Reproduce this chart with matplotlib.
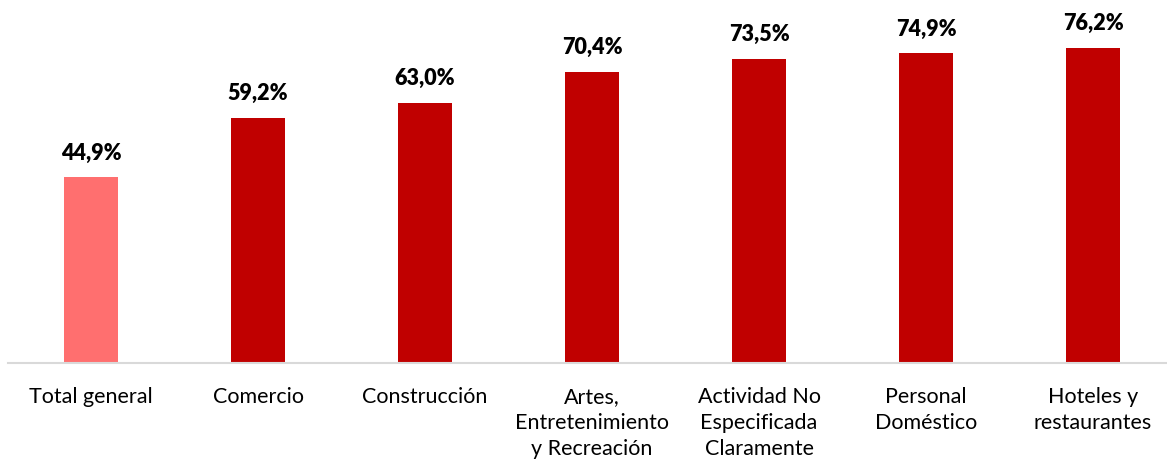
import matplotlib.pyplot as plt

categories = ["Total general", "Comercio", "Construcción", "Artes,\nEntretenimiento\ny Recreación",
              "Actividad No\nEspecificada\nClaramente", "Personal\nDoméstico", "Hoteles y\nrestaurantes"]
values = [44.9, 59.2, 63.0, 70.4, 73.5, 74.9, 76.2]
colors = ["#FF6F6F"] + ["#C00000"] * 6

plt.rcParams['font.family'] = ['Lato', 'DejaVu Sans']

fig = plt.figure(figsize=(11.67, 4.62), dpi=100)
ax = fig.add_axes([7.5 / 1167, 99 / 462, 1169 / 1167, 363 / 462])

x = list(range(len(values)))
bars = ax.bar(x, values, width=0.32, color=colors)

for xi, v in zip(x, values):
    ax.annotate(f"{v:.1f}%".replace(".", ","), (xi, v), xytext=(0, 10), textcoords="offset points",
                ha="center", va="bottom", fontsize=15.5, fontweight="heavy", color="black")

ax.set_xlim(-0.5, len(values) - 0.5)
ax.set_ylim(0, 87.8)
ax.set_xticks(x)
ax.set_xticklabels(categories, fontsize=15.5, linespacing=1.4, va="top")
ax.tick_params(axis="x", length=0, pad=17)
ax.set_yticks([])
for s in ["top", "right", "left"]:
    ax.spines[s].set_visible(False)
ax.spines["bottom"].set_color("#D9D9D9")
ax.spines["bottom"].set_linewidth(1.5)

fig.savefig("out.png", dpi=100)
